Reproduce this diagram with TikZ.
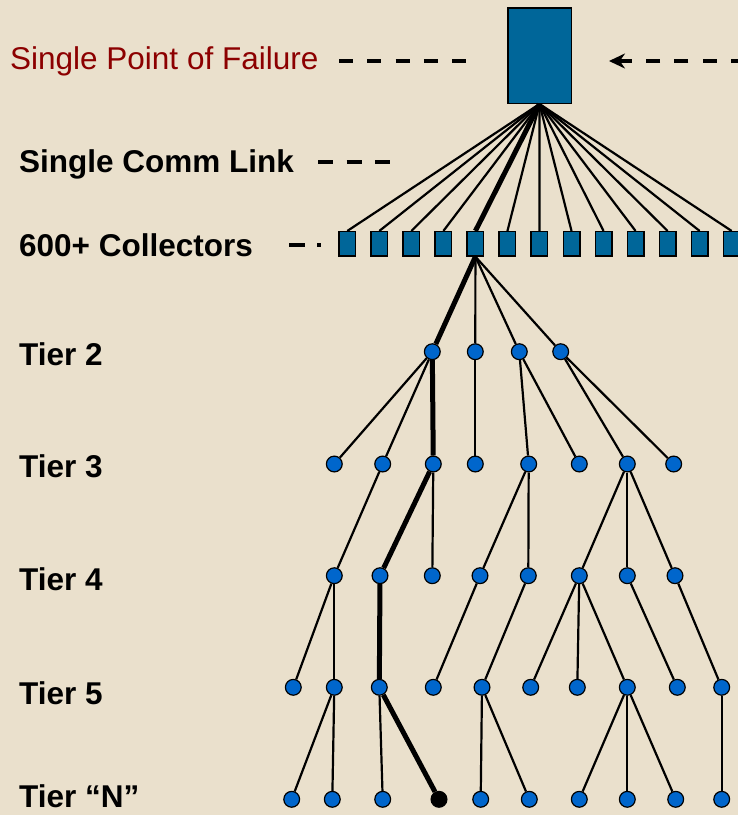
\documentclass[tikz,border=0pt]{standalone}
\usepackage{fontspec}
\setmainfont{Liberation Sans}
\usetikzlibrary{arrows.meta}
\definecolor{paper}{RGB}{234,224,204}
\definecolor{boxblue}{RGB}{0,102,153}
\definecolor{devblue}{RGB}{0,102,204}
\definecolor{failred}{RGB}{140,0,0}
\tikzset{
  hub/.style={draw,fill=boxblue,line width=1.5pt,minimum width=63.5pt,minimum height=95.5pt,inner sep=0pt},
  coll/.style={draw,fill=boxblue,line width=1.2pt,minimum width=16.8pt,minimum height=24.5pt,inner sep=0pt},
  dev/.style={circle,draw,fill=devblue,line width=1.2pt,minimum size=15.8pt,inner sep=0pt},
  tier/.style={anchor=base west,inner sep=0pt,font=\fontsize{31.5}{38}\selectfont\bfseries},
  link/.style={line width=2.2pt},
  hot/.style={line width=5pt,line join=round},
  dashline/.style={line width=3.7pt,dash pattern=on 14pt off 14.3pt}
}
\begin{document}
\begin{tikzpicture}[x=1pt,y=-1pt]
\fill[paper] (0,0) rectangle (738,815);
\useasboundingbox (0,0) rectangle (738,815);
\clip (0,0) rectangle (738,815);
% labels on the left
\node[anchor=base west,inner sep=0pt,text=failred,font=\fontsize{31.5}{38}\selectfont] (spof) at (10,69) {Single Point of Failure};
\node[tier] (linklbl) at (19,172) {Single Comm Link};
\node[tier] (colllbl) at (19,256) {600+ Collectors};
\node[tier] (tier2) at (19,365) {Tier 2};
\node[tier] (tier3) at (19,477) {Tier 3};
\node[tier] (tier4) at (19,590) {Tier 4};
\node[tier] (tier5) at (19,704) {Tier 5};
\node[tier] (tiern) at (19,807) {Tier “N”};
% head end and collectors
\node[hub] (hub) at (539.5,55.5) {};
\foreach \k in {0,...,12}
  \node[coll] (c\k) at ({347.3+32.03*\k},243.8) {};
% tiers
\foreach \n/\x in {a/432.3,b/475.3,c/519.3,d/560.7}
  \node[dev] (t2\n) at (\x,351.7) {};
\foreach \n/\x in {a/334.3,b/382.7,c/433.3,d/475.3,e/528.7,f/579.3,g/627.3,h/673.7}
  \node[dev] (t3\n) at (\x,464) {};
\foreach \n/\x in {a/334.3,b/380,c/432.3,d/480,e/528.3,f/579.3,g/627.3,h/675}
  \node[dev] (t4\n) at (\x,575.7) {};
\foreach \n/\x in {a/293.3,b/334.3,c/379.3,d/433.3,e/482,f/530.7,g/577.3,h/627.3,i/677.3,j/721.7}
  \node[dev] (t5\n) at (\x,687.3) {};
\foreach \n/\x in {a/291.7,b/332.3,c/382.7,e/480.7,f/529.3,g/579.3,h/627.3,i/675.7,j/721.7}
  \node[dev] (tn\n) at (\x,799.3) {};
\node[dev,fill=black] (tnd) at (439,799.3) {};
% links
\foreach \k in {0,...,3,5,6,...,12}
  \draw[link] (hub.south) -- (c\k.north);
\foreach \b in {t2b,t2c,t2d}
  \draw[link] (c4.south) -- (\b);
\foreach \a/\b in {t2a/t3a,t2a/t3b,t2b/t3d,t2c/t3e,t2c/t3f,t2d/t3g,t2d/t3h,
    t3b/t4a,t3c/t4c,t3e/t4d,t3e/t4e,t3g/t4f,t3g/t4g,t3g/t4h,
    t4a/t5a,t4a/t5b,t4d/t5d,t4e/t5e,t4f/t5f,t4f/t5g,t4f/t5h,t4g/t5i,t4h/t5j,
    t5b/tna,t5b/tnb,t5c/tnc,t5e/tne,t5e/tnf,t5h/tng,t5h/tnh,t5h/tni,t5j/tnj}
  \draw[link] (\a) -- (\b);
% the failure path
\draw[hot] (hub.south) -- (c4.north);
\draw[hot] (c4.south) -- (t2a) -- (t3c) -- (t4b) -- (t5c) -- (tnd);
% dashed pointers
\coordinate (spofa) at (339,61);
\coordinate (spofb) at (467,61);
\coordinate (arrtail) at (745,61);
\coordinate (arrtip) at (609,61);
\coordinate (linka) at (318,162);
\coordinate (linkb) at (390,162);
\coordinate (colla) at (289,245);
\coordinate (collb) at (321,245);
\draw[dashline] (spofa) -- (spofb);
\draw[dashline,-{Stealth[length=16pt,width=15pt]}] (arrtail) -- (arrtip);
\draw[dashline,dash pattern=on 15pt off 13.5pt] (linka) -- (linkb);
\draw[dashline,dash pattern=on 16pt off 12pt] (colla) -- (collb);
\end{tikzpicture}
\end{document}
